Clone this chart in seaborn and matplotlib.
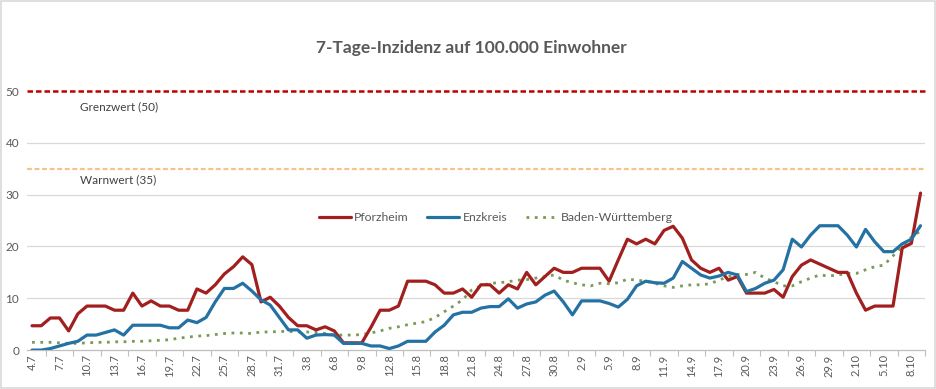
import matplotlib

matplotlib.use("Agg")

import matplotlib.pyplot as plt
import pandas as pd
import seaborn as sns
from matplotlib.patches import Rectangle

# daily values 4.7. - 9.10.
dates = pd.date_range("2020-07-04", "2020-10-09", freq="D")

pforzheim = [
    4.7, 4.7, 6.2, 6.2, 3.7, 7.0, 8.5, 8.5, 8.5, 7.7,
    7.7, 11.0, 8.5, 9.5, 8.5, 8.5, 7.7, 7.7, 11.8, 11.0,
    12.6, 14.7, 16.1, 18.0, 16.5, 9.3, 10.2, 8.5, 6.3, 4.7,
    4.7, 3.9, 4.5, 3.7, 1.4, 1.4, 1.4, 4.4, 7.7, 7.7,
    8.5, 13.3, 13.3, 13.3, 12.6, 11.0, 11.0, 11.8, 10.2, 12.6,
    12.6, 11.0, 12.6, 11.8, 15.0, 12.6, 14.2, 15.8, 15.0, 15.0,
    15.8, 15.8, 15.8, 13.3, 17.4, 21.4, 20.5, 21.4, 20.5, 23.1,
    23.9, 21.6, 17.4, 15.8, 15.0, 15.8, 13.5, 14.2, 11.0, 11.0,
    11.0, 11.7, 10.2, 14.2, 16.4, 17.4, 16.6, 15.8, 15.0, 15.0,
    11.0, 7.7, 8.5, 8.5, 8.5, 19.7, 20.6, 30.3,
]
enzkreis = [
    0.0, 0.0, 0.3, 0.8, 1.3, 1.7, 2.9, 2.9, 3.4, 3.9,
    2.9, 4.8, 4.8, 4.8, 4.8, 4.3, 4.3, 5.8, 5.3, 6.3,
    9.3, 11.9, 11.9, 12.9, 11.4, 9.7, 8.7, 6.3, 3.9, 3.9,
    2.3, 2.9, 3.0, 2.9, 1.3, 1.3, 1.3, 0.8, 0.8, 0.3,
    0.8, 1.7, 1.7, 1.7, 3.5, 4.8, 6.8, 7.3, 7.3, 8.1,
    8.4, 8.4, 9.9, 8.1, 8.9, 9.3, 10.6, 11.4, 9.3, 6.8,
    9.5, 9.5, 9.5, 9.0, 8.3, 9.8, 12.4, 13.3, 13.0, 12.9,
    13.9, 17.1, 15.8, 14.5, 13.9, 14.3, 15.0, 14.5, 11.3, 11.9,
    12.9, 13.5, 15.5, 21.4, 19.9, 22.2, 24.0, 24.0, 24.0, 22.2,
    19.9, 23.3, 20.9, 19.0, 19.0, 20.5, 21.4, 24.0,
]
baden_wuerttemberg = [
    1.5, 1.5, 1.5, 1.4, 1.3, 1.3, 1.4, 1.5, 1.5, 1.6,
    1.6, 1.7, 1.7, 1.8, 1.9, 2.0, 2.3, 2.5, 2.7, 2.8,
    3.0, 3.2, 3.3, 3.3, 3.2, 3.5, 3.5, 3.6, 3.6, 3.5,
    3.5, 3.4, 3.2, 2.9, 2.9, 2.9, 3.0, 3.3, 3.7, 4.2,
    4.5, 4.9, 5.2, 5.5, 6.3, 7.4, 8.5, 9.7, 11.6, 12.4,
    12.9, 13.0, 13.2, 13.5, 13.6, 13.9, 14.2, 14.5, 13.5, 13.0,
    12.6, 12.4, 12.9, 12.8, 13.0, 13.7, 13.5, 13.3, 12.9, 12.4,
    12.1, 12.4, 12.6, 12.6, 12.8, 13.5, 14.2, 14.6, 14.6, 15.0,
    13.9, 13.2, 12.4, 12.4, 13.2, 13.9, 14.5, 14.3, 14.5, 14.8,
    14.8, 15.5, 16.1, 16.4, 18.2, 20.0, 21.8, 23.0,
]

grenzwert = 50
warnwert = 35

labels = [f"{d.day}.{d.month}" for d in dates]
df = pd.DataFrame({
    "idx": range(len(dates)),
    "Pforzheim": pforzheim,
    "Enzkreis": enzkreis,
    "Baden-Württemberg": baden_wuerttemberg,
})

sns.set_theme(style="white")
plt.rcParams["font.family"] = ["Lato", "DejaVu Sans"]

RED = "#A11F1F"
BLUE = "#2472A4"
GREEN = "#7A9A55"
GREY = "#595959"

fig = plt.figure(figsize=(9.37, 3.89), dpi=100)
ax = fig.add_axes([0.0293, 0.100, 0.958, 0.666])

for y in (10, 20, 30, 40):
    ax.axhline(y, color="#D9D9D9", lw=0.9, zorder=0)

ax.axhline(grenzwert, color="#C00000", lw=1.8, ls=(0, (2.2, 1.2)), clip_on=False, zorder=1)
ax.axhline(warnwert, color="#F4C28E", lw=1.6, ls=(0, (2.2, 1.2)), zorder=1)

sns.lineplot(data=df, x="idx", y="Pforzheim", color=RED, lw=2.3, ax=ax,
             label="Pforzheim", zorder=3)
sns.lineplot(data=df, x="idx", y="Enzkreis", color=BLUE, lw=2.3, ax=ax,
             label="Enzkreis", zorder=4)
sns.lineplot(data=df, x="idx", y="Baden-Württemberg", color=GREEN, lw=2.0,
             ls=(0, (1, 2.0)), ax=ax, label="Baden-Württemberg", zorder=2)

ax.set_xlim(-0.5, len(dates) - 0.5)
ax.set_ylim(0, 50)
ax.set_yticks([0, 10, 20, 30, 40, 50])
ax.set_xticks(range(0, len(dates), 3))
ax.set_xticklabels(labels[::3], rotation=90)
ax.set_xticks([i + 1.5 for i in range(0, len(dates) - 1, 3)], minor=True)
ax.tick_params(axis="x", which="major", length=0, labelsize=8, colors=GREY, pad=3)
ax.tick_params(axis="x", which="minor", length=4, color="#BFBFBF", width=0.8, bottom=True)
ax.tick_params(axis="y", length=0, labelsize=8.5, colors=GREY, pad=6)
ax.set_xlabel("")
ax.set_ylabel("")

for side in ("top", "right", "left"):
    ax.spines[side].set_visible(False)
ax.spines["bottom"].set_color("#BFBFBF")
ax.spines["bottom"].set_linewidth(0.9)

ax.text(5.2, 47.0, "Grenzwert (50)", fontsize=8.5, color="#404040", va="center")
ax.text(5.2, 32.8, "Warnwert (35)", fontsize=8.5, color="#404040", va="center")

ax.legend(loc="center", bbox_to_anchor=(0.522, 0.51), ncol=3, frameon=False,
          fontsize=8.8, labelcolor=GREY, handlelength=2.6, columnspacing=1.5,
          handletextpad=0.3)

fig.text(0.503, 0.876, "7-Tage-Inzidenz auf 100.000 Einwohner", ha="center",
         va="center", fontsize=12.5, fontweight="bold", color=GREY)

fig.patches.append(Rectangle((0.001, 0.002), 0.997, 0.995, transform=fig.transFigure,
                             fill=False, edgecolor="#D9D9D9", lw=1.2))

fig.savefig("out.png", dpi=100)
